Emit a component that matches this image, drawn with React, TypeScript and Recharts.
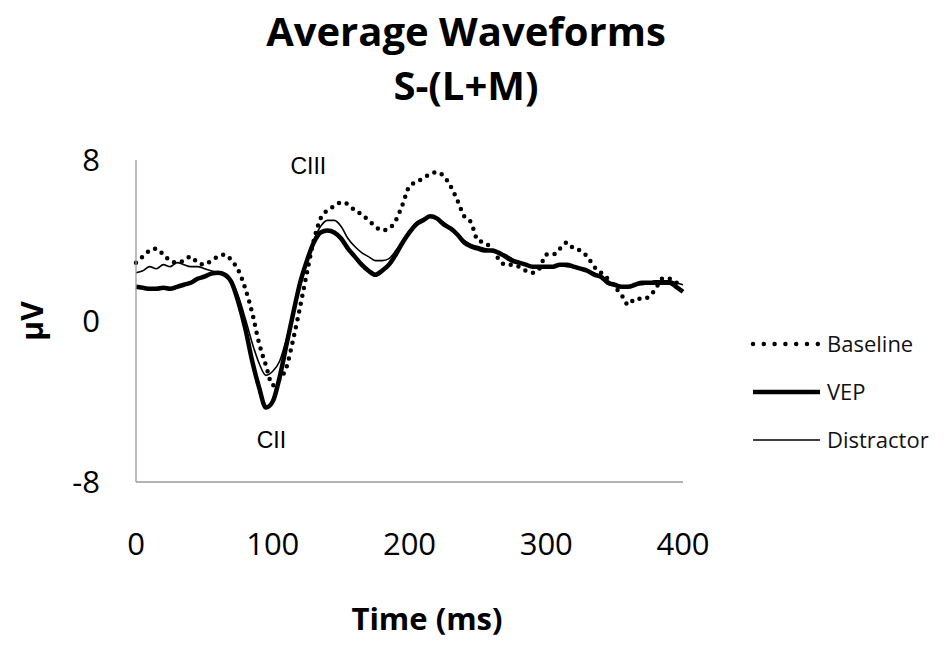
import { LineChart, Line, XAxis, YAxis, Legend, ReferenceDot } from "recharts";

// sample times (ms)
const timeMs = [
  0, 5, 10, 15, 20, 25, 30, 35, 40, 45, 50, 55, 60, 65, 70, 75, 80, 85, 90, 95,
  100, 105, 110, 115, 120, 125, 130, 135, 140, 145, 150, 155, 160, 165, 170, 175, 180, 185, 190, 195,
  200, 205, 210, 215, 220, 225, 230, 235, 240, 245, 250, 255, 260, 265, 270, 275, 280, 285, 290, 295,
  300, 305, 310, 315, 320, 325, 330, 335, 340, 345, 350, 355, 360, 365, 370, 375, 380, 385, 390, 395,
  400,
];

// amplitudes in µV
const baseline = [
  2.9, 3.2, 3.5, 3.6, 3.3, 3.0, 2.9, 3.0, 3.2, 2.9, 2.8, 3.0, 3.2, 3.3, 3.0, 2.5, 1.6, 0.4, -1.1, -2.2,
  -3.2, -2.9, -2.3, -0.9, 0.7, 2.4, 4.0, 5.1, 5.5, 5.7, 5.9, 5.8, 5.5, 5.3, 5.0, 4.7, 4.5, 4.6, 5.0, 5.8,
  6.7, 6.9, 7.1, 7.3, 7.4, 7.2, 6.7, 6.0, 5.2, 4.9, 4.0, 3.9, 3.6, 3.1, 2.8, 2.8, 2.7, 2.5, 2.4, 2.6,
  3.3, 3.3, 3.6, 3.9, 3.6, 3.5, 3.2, 2.7, 2.4, 2.1, 1.7, 1.3, 0.8, 1.1, 1.1, 1.2, 1.6, 2.1, 2.1, 1.9,
  1.9,
];

const vep = [
  1.7, 1.65, 1.6, 1.6, 1.65, 1.6, 1.7, 1.8, 1.9, 2.1, 2.2, 2.35, 2.4, 2.3, 1.9, 0.9, -0.4, -2.0, -3.3, -4.3,
  -4.0, -2.8, -1.2, 0.4, 1.9, 3.0, 3.9, 4.4, 4.5, 4.4, 4.1, 3.6, 3.2, 2.8, 2.5, 2.3, 2.5, 2.8, 3.3, 3.9,
  4.4, 4.8, 5.0, 5.2, 5.1, 4.8, 4.6, 4.3, 3.9, 3.7, 3.6, 3.5, 3.5, 3.4, 3.2, 3.0, 2.9, 2.8, 2.7, 2.7,
  2.7, 2.7, 2.8, 2.8, 2.7, 2.6, 2.5, 2.3, 2.2, 1.9, 1.8, 1.7, 1.7, 1.8, 1.9, 1.9, 1.9, 1.9, 1.9, 1.7,
  1.45,
];

const distractor = [
  2.4, 2.5, 2.7, 2.6, 2.8, 2.7, 2.9, 2.8, 2.7, 2.7, 2.6, 2.5, 2.4, 2.3, 2.0, 1.2, 0.1, -1.1, -2.1, -2.7,
  -2.5, -2.0, -0.9, 0.4, 1.7, 2.9, 4.0, 4.7, 5.0, 5.0, 4.7, 4.1, 3.7, 3.4, 3.2, 3.0, 3.0, 3.1, 3.5, 4.0,
  4.5, 4.9, 5.1, 5.2, 5.1, 4.9, 4.6, 4.3, 4.0, 3.8, 3.7, 3.6, 3.5, 3.4, 3.3, 3.1, 2.9, 2.8, 2.7, 2.6,
  2.7, 2.7, 2.8, 2.7, 2.7, 2.6, 2.5, 2.4, 2.2, 2.0, 1.8, 1.7, 1.7, 1.8, 1.8, 1.9, 2.0, 2.0, 2.0, 1.9,
  1.8,
];

const xTicks = [0, 100, 200, 300, 400];
const yTicks = [-8, 0, 8];

// component peak labels, placed in data units
const peaks = [
  { name: "CIII", time: 126, value: 7.7 },
  { name: "CII", time: 99, value: -5.9 },
];

const rows = timeMs.map((t, i) => ({
  t,
  baseline: baseline[i],
  vep: vep[i],
  distractor: distractor[i],
}));

const series = [
  { key: "baseline", name: "Baseline", width: 4.5, dash: "0 8", legendDash: "0 10.8" },
  { key: "vep", name: "VEP", width: 4.5 },
  { key: "distractor", name: "Distractor", width: 1.6 },
];

const drawOrder = ["baseline", "distractor", "vep"];

const sans = "'Open Sans', 'DejaVu Sans', sans-serif";
const axisStroke = "#9a9a9a";

function WaveLegend() {
  return (
    <svg width={200} height={140}>
      {series.map((s, i) => (
        <g key={s.key} transform={`translate(0, ${16 + i * 48})`}>
          <line
            x1={5}
            x2={72}
            y1={0}
            y2={0}
            stroke="#000"
            strokeWidth={s.width}
            strokeDasharray={s.legendDash}
            strokeLinecap={s.legendDash ? "round" : "butt"}
          />
          <text x={79} y={0} dy="0.36em" fontSize={22} fontFamily={sans} fill="#111">
            {s.name}
          </text>
        </g>
      ))}
    </svg>
  );
}

export default function App() {
  return (
    <div style={{ position: "absolute", left: 0, top: 0, width: 948, height: 645, background: "#fff" }}>
      <div
        style={{
          position: "absolute",
          left: 0,
          top: 4,
          width: 932,
          textAlign: "center",
          fontFamily: sans,
          fontWeight: 700,
          fontSize: 40,
          lineHeight: "54px",
          color: "#000",
        }}
      >
        Average Waveforms
        <br />
        S-(L+M)
      </div>
      <div
        style={{
          position: "absolute",
          left: 327,
          top: 598,
          width: 200,
          textAlign: "center",
          fontFamily: sans,
          fontWeight: 700,
          fontSize: 31,
          lineHeight: "40px",
          color: "#000",
        }}
      >
        Time (ms)
      </div>
      <div
        style={{
          position: "absolute",
          left: 32 - 50,
          top: 321 - 20,
          width: 100,
          height: 40,
          lineHeight: "40px",
          textAlign: "center",
          transform: "rotate(-90deg)",
          fontFamily: sans,
          fontWeight: 700,
          fontSize: 30,
          color: "#000",
        }}
      >
        µV
      </div>
      <LineChart
        width={948}
        height={645}
        data={rows}
        margin={{ top: 160, right: 265, bottom: 103, left: 76 }}
      >
        <XAxis
          dataKey="t"
          type="number"
          domain={[0, 400]}
          ticks={xTicks}
          height={60}
          tickLine={false}
          tickSize={0}
          tickMargin={51}
          axisLine={{ stroke: axisStroke, strokeWidth: 1.3 }}
          tick={{ fontSize: 31, fill: "#000", fontFamily: sans }}
        />
        <YAxis
          type="number"
          domain={[-8, 8]}
          ticks={yTicks}
          width={60}
          tickLine={false}
          tickSize={0}
          tickMargin={36}
          axisLine={{ stroke: axisStroke, strokeWidth: 1.3 }}
          tick={{ fontSize: 31, fill: "#000", fontFamily: sans }}
        />
        {drawOrder.map((key) => {
          const s = series.find((d) => d.key === key)!;
          return (
            <Line
              key={s.key}
              dataKey={s.key}
              name={s.name}
              type="monotone"
              stroke="#000"
              strokeWidth={s.width}
              strokeDasharray={s.dash}
              strokeLinecap={s.dash ? "round" : "butt"}
              dot={false}
              activeDot={false}
              isAnimationActive={false}
            />
          );
        })}
        {peaks.map((p) => (
          <ReferenceDot
            key={p.name}
            x={p.time}
            y={p.value}
            r={1}
            fill="none"
            stroke="none"
            label={{
              value: p.name,
              position: "center",
              fontSize: 23,
              fill: "#000",
              fontFamily: "'Liberation Sans', Arial, sans-serif",
            }}
          />
        ))}
        <Legend
          layout="vertical"
          align="center"
          verticalAlign="middle"
          wrapperStyle={{ left: 748, top: 328, width: 200 }}
          content={() => <WaveLegend />}
        />
      </LineChart>
    </div>
  );
}
